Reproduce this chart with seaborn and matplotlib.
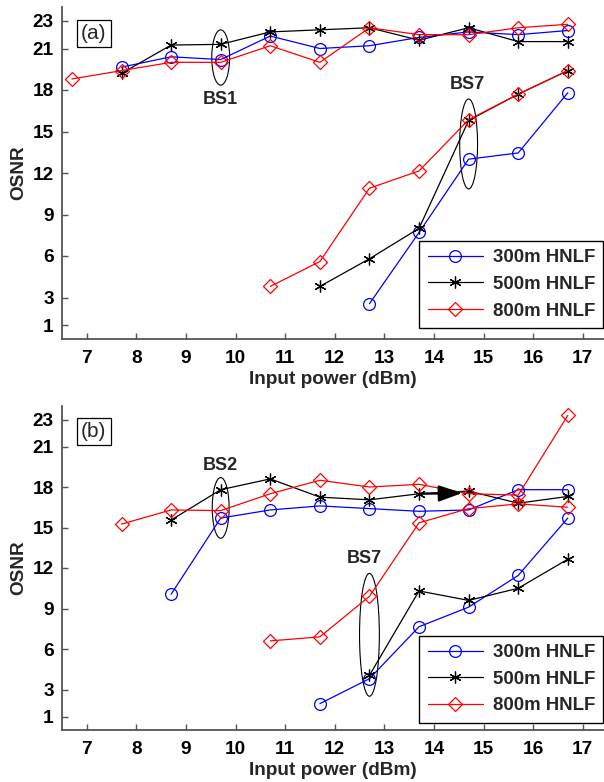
import numpy as np
import pandas as pd
import matplotlib
matplotlib.use("Agg")
import matplotlib.pyplot as plt
import seaborn as sns
from matplotlib.patches import Ellipse

# ---------------- data ----------------
fibers = ["300m HNLF", "500m HNLF", "800m HNLF"]
colors = {"300m HNLF": "#0000ff", "500m HNLF": "#000000", "800m HNLF": "#ff0000"}
xticks = [7, 8, 9, 10, 11, 12, 13, 14, 15, 16, 17]
yticks = [1, 3, 6, 9, 12, 15, 18, 21, 23]

# Panel (a)
a_300_high_x = [7.7, 8.7, 9.7, 10.7, 11.7, 12.7, 13.7, 14.7, 15.7, 16.7]
a_300_high_y = [19.65, 20.4, 20.2, 21.9, 21.0, 21.2, 21.8, 22.2, 22.0, 22.3]
a_300_low_x = [12.7, 13.7, 14.7, 15.7, 16.7]
a_300_low_y = [2.55, 7.7, 13.0, 13.45, 17.8]
a_500_high_x = [7.7, 8.7, 9.7, 10.7, 11.7, 12.7, 13.7, 14.7, 15.7, 16.7]
a_500_high_y = [19.2, 21.25, 21.3, 22.2, 22.35, 22.5, 21.6, 22.5, 21.5, 21.5]
a_500_low_x = [11.7, 12.7, 13.7, 14.7, 15.7, 16.7]
a_500_low_y = [3.8, 5.8, 8.0, 15.8, 17.7, 19.4]
a_800_high_x = [6.7, 7.7, 8.7, 9.7, 10.7, 11.7, 12.7, 13.7, 14.7, 15.7, 16.7]
a_800_high_y = [18.8, 19.4, 20.0, 20.0, 21.2, 20.0, 22.5, 22.0, 22.0, 22.5, 22.75]
a_800_low_x = [10.7, 11.7, 12.7, 13.7, 14.7, 15.7, 16.7]
a_800_low_y = [3.8, 5.6, 10.9, 12.15, 15.85, 17.7, 19.4]

# Panel (b)
b_300_high_x = [8.7, 9.7, 10.7, 11.7, 12.7, 13.7, 14.7, 15.7, 16.7]
b_300_high_y = [10.05, 15.7, 16.3, 16.6, 16.4, 16.2, 16.3, 17.8, 17.8]
b_300_low_x = [11.7, 12.7, 13.7, 14.7, 15.7, 16.7]
b_300_low_y = [1.95, 3.8, 7.65, 9.1, 11.45, 15.7]
b_500_high_x = [8.7, 9.7, 10.7, 11.7, 12.7, 13.7, 14.7, 15.7, 16.7]
b_500_high_y = [15.55, 17.8, 18.6, 17.25, 17.05, 17.5, 17.7, 16.8, 17.3]
b_500_low_x = [12.7, 13.7, 14.7, 15.7, 16.7]
b_500_low_y = [4.05, 10.3, 9.6, 10.5, 12.65]
b_800_high_x = [7.7, 8.7, 9.7, 10.7, 11.7, 12.7, 13.7, 14.7, 15.7, 16.7]
b_800_high_y = [15.25, 16.3, 16.25, 17.5, 18.5, 18.0, 18.2, 17.5, 17.4, 23.3]
b_800_low_x = [10.7, 11.7, 12.7, 13.7, 14.7, 15.7, 16.7]
b_800_low_y = [6.6, 6.9, 9.9, 15.35, 16.4, 16.75, 16.5]

rows = []
def add(panel, fiber, branch, xs, ys):
    for xv, yv in zip(xs, ys):
        rows.append(dict(panel=panel, fiber=fiber, branch=branch, x=xv, y=yv))

add("a", "300m HNLF", "high", a_300_high_x, a_300_high_y)
add("a", "300m HNLF", "low", a_300_low_x, a_300_low_y)
add("a", "500m HNLF", "high", a_500_high_x, a_500_high_y)
add("a", "500m HNLF", "low", a_500_low_x, a_500_low_y)
add("a", "800m HNLF", "high", a_800_high_x, a_800_high_y)
add("a", "800m HNLF", "low", a_800_low_x, a_800_low_y)
add("b", "300m HNLF", "high", b_300_high_x, b_300_high_y)
add("b", "300m HNLF", "low", b_300_low_x, b_300_low_y)
add("b", "500m HNLF", "high", b_500_high_x, b_500_high_y)
add("b", "500m HNLF", "low", b_500_low_x, b_500_low_y)
add("b", "800m HNLF", "high", b_800_high_x, b_800_high_y)
add("b", "800m HNLF", "low", b_800_low_x, b_800_low_y)
df = pd.DataFrame(rows)

markers = {"300m HNLF": "o", "500m HNLF": (6, 2, 0), "800m HNLF": "D"}
msizes = {"300m HNLF": 8.5, "500m HNLF": 8.5, "800m HNLF": 7.5}

# ---------------- style ----------------
sns.set_theme(style="ticks")
plt.rcParams["font.family"] = ["Liberation Sans", "DejaVu Sans"]
plt.rcParams["axes.edgecolor"] = "#555555"
plt.rcParams["xtick.color"] = "#555555"
plt.rcParams["ytick.color"] = "#555555"
plt.rcParams["xtick.labelcolor"] = "black"
plt.rcParams["ytick.labelcolor"] = "black"

FS = 13.7

fig = plt.figure(figsize=(6.04, 7.82), dpi=100)
ax_a = fig.add_axes([62 / 604, 1 - 339 / 782, 1 - 62 / 604, 332 / 782])
ax_b = fig.add_axes([62 / 604, 1 - 730 / 782, 1 - 62 / 604, 324 / 782])

for panel, ax in (("a", ax_a), ("b", ax_b)):
    handles = []
    for fiber in fibers:
        for branch in ("high", "low"):
            sub = df[(df.panel == panel) & (df.fiber == fiber) & (df.branch == branch)]
            sns.lineplot(data=sub, x="x", y="y", ax=ax, color=colors[fiber],
                         marker=markers[fiber], markersize=msizes[fiber],
                         mfc="none", mec=colors[fiber], mew=0.9, lw=0.9,
                         estimator=None, sort=False, legend=False)
            if branch == "high":
                handles.append(ax.lines[-1])
    ax.set_xlim(6.5, 17.43)
    ax.set_ylim(0, 24)
    ax.set_xticks(xticks)
    ax.set_yticks(yticks)
    ax.tick_params(direction="in", length=4, width=1, labelsize=FS)
    ax.tick_params(axis="x", pad=8)
    ax.tick_params(axis="y", pad=6)
    for lab in ax.get_xticklabels() + ax.get_yticklabels():
        lab.set_fontweight("bold")
    for s in ("top", "right"):
        ax.spines[s].set_visible(False)
    for s in ("left", "bottom"):
        ax.spines[s].set_linewidth(1.3)
    ax.set_xlabel("Input power (dBm)", fontsize=FS, fontweight="bold", labelpad=3)
    ax.set_ylabel("OSNR", fontsize=FS, fontweight="bold", labelpad=4)
    leg = ax.legend(handles, fibers, loc="lower right",
                    bbox_to_anchor=(0.999, 0.033 if panel == "a" else 0.022),
                    fancybox=False, framealpha=1, edgecolor="black",
                    prop=dict(size=13.4, weight="bold"), handlelength=3.0,
                    labelspacing=0.52, borderpad=0.45, handletextpad=0.5,
                    borderaxespad=0)
    leg.get_frame().set_linewidth(1.0)

# panel labels
for ax, lab in ((ax_a, "(a)"), (ax_b, "(b)")):
    ax.text(7.14, 22.1, lab, fontsize=15, ha="center", va="center",
            bbox=dict(boxstyle="square,pad=0.2", fc="white", ec="black", lw=0.9))

# annotations (a)
ax_a.add_patch(Ellipse((9.7, 20.35), 0.36, 4.0, fill=False, ec="black", lw=0.8))
ax_a.text(9.7, 17.3, "BS1", fontsize=13, fontweight="bold", ha="center", va="center")
ax_a.add_patch(Ellipse((14.7, 14.1), 0.36, 6.5, fill=False, ec="black", lw=0.8))
ax_a.text(14.68, 18.4, "BS7", fontsize=13, fontweight="bold", ha="center", va="center")

# annotations (b)
ax_b.add_patch(Ellipse((9.7, 16.45), 0.34, 4.5, fill=False, ec="black", lw=0.8))
ax_b.text(9.7, 19.6, "BS2", fontsize=13, fontweight="bold", ha="center", va="center")
ax_b.add_patch(Ellipse((12.7, 7.05), 0.4, 9.1, fill=False, ec="black", lw=0.8))
ax_b.text(12.6, 12.7, "BS7", fontsize=13, fontweight="bold", ha="center", va="center")
ax_b.annotate("", xy=(14.57, 17.55), xytext=(13.72, 17.5),
              arrowprops=dict(arrowstyle="-|>,head_length=1.44,head_width=0.5",
                              mutation_scale=10,
                              color="black", lw=1.6, shrinkA=0, shrinkB=0))

fig.savefig("out.png", dpi=100)
